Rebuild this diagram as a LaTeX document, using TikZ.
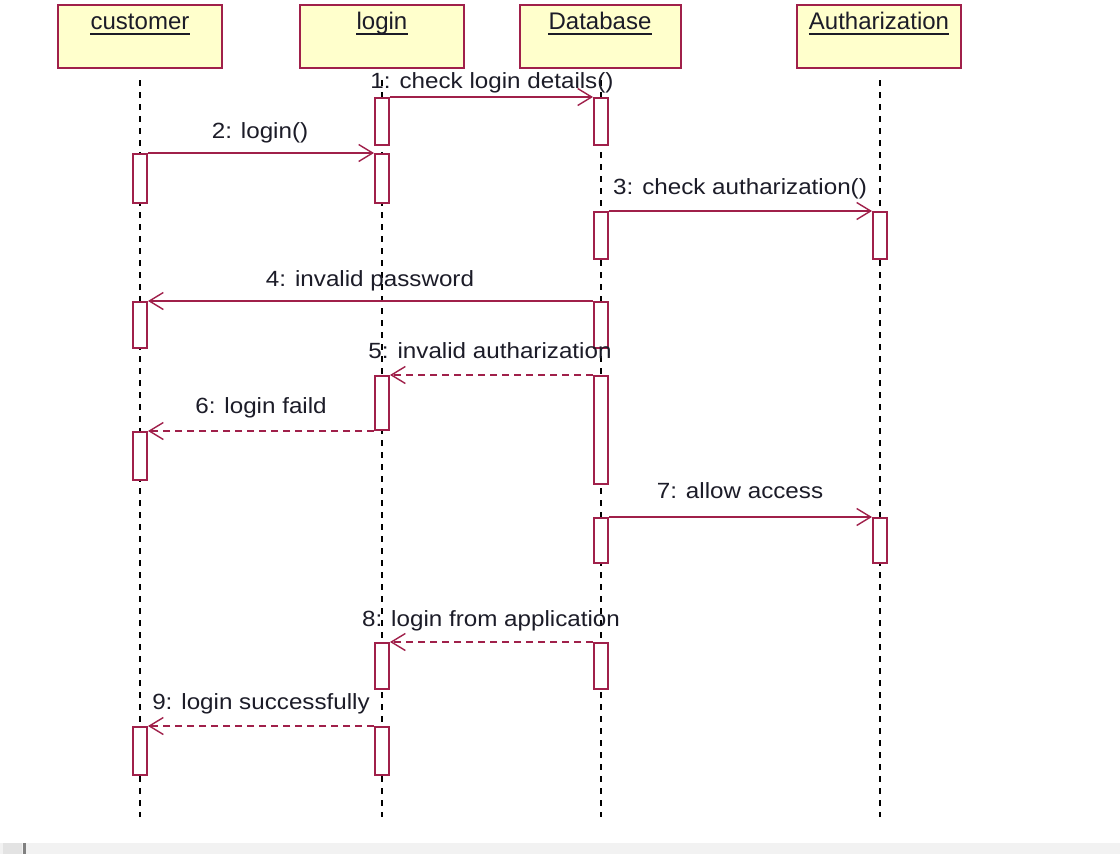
\documentclass[tikz,border=0pt]{standalone}
\usepackage{fontspec}
\setmainfont{Liberation Sans}
\newfontfamily\lblfont[FakeStretch=1.1]{Liberation Sans}
\usetikzlibrary{arrows.meta}

\definecolor{umlred}{HTML}{A0204A}
\definecolor{umlfill}{HTML}{FFFFCC}
\definecolor{umltext}{HTML}{1C1C28}

\tikzset{
  hdrbox/.style={draw=umlred, fill=umlfill, line width=2pt, rectangle,
    minimum height=63pt, inner sep=0pt},
  hdrtext/.style={font=\fontsize{24}{28}\selectfont, text=umltext,
    inner sep=0pt, anchor=base},
  uline/.style={umltext, line width=1.5pt},
  lifeline/.style={black, line width=2pt, dash pattern=on 6pt off 6pt},
  actbar/.style={draw=umlred, fill=white, line width=2pt, rectangle,
    minimum width=14pt, inner sep=0pt, anchor=north},
  msg/.style={umlred, line width=2pt,
    -{Straight Barb[length=14pt, width=17pt, line width=1.4pt]}},
  reply/.style={msg, dash pattern=on 7pt off 5pt},
  lbl/.style={font=\lblfont\fontsize{22}{26}\selectfont, text=umltext,
    inner sep=0pt, anchor=base}
}

\begin{document}
\begin{tikzpicture}[x=1pt, y=-1pt]
\useasboundingbox (0,0) rectangle (1120,854);
\fill[white] (0,0) rectangle (1120,854);

% status strip along the bottom edge
\fill[black!5] (0,843) rectangle (1120,854);
\fill[black!11] (3,843) rectangle (22,854);
\fill[black!50] (23,843) rectangle (26,854);

% object headers
\node[hdrbox, minimum width=164pt] (custBox) at (140,36.5) {};
\node[hdrbox, minimum width=164pt] (loginBox) at (382,36.5) {};
\node[hdrbox, minimum width=161pt] (dbBox) at (600,36.5) {};
\node[hdrbox, minimum width=164pt] (authBox) at (879,36.5) {};

\node[hdrtext] (custT) at (140,29.5) {customer};
\node[hdrtext] (loginT) at (382,29.5) {login};
\node[hdrtext] (dbT) at (600,29.5) {Database};
\node[hdrtext] (authT) at (879,29.5) {Autharization};
\foreach \t in {custT, loginT, dbT, authT}
  \draw[uline] ([yshift=-4.5pt]\t.base west) -- ([yshift=-4.5pt]\t.base east);

% lifelines
\coordinate (custTop) at (140,80);   \coordinate (custEnd) at (140,817);
\coordinate (loginTop) at (382,80);  \coordinate (loginEnd) at (382,817);
\coordinate (dbTop) at (601,80);     \coordinate (dbEnd) at (601,817);
\coordinate (authTop) at (880,80);   \coordinate (authEnd) at (880,817);
\draw[lifeline] (custTop) -- (custEnd);
\draw[lifeline] (loginTop) -- (loginEnd);
\draw[lifeline] (dbTop) -- (dbEnd);
\draw[lifeline] (authTop) -- (authEnd);

% activation bars
\node[actbar, minimum height=49pt] (c1) at (140,153) {};
\node[actbar, minimum height=46pt] (c2) at (140,301) {};
\node[actbar, minimum height=48pt] (c3) at (140,431) {};
\node[actbar, minimum height=48pt] (c4) at (140,726) {};

\node[actbar, minimum height=47pt] (l1) at (382,97) {};
\node[actbar, minimum height=49pt] (l2) at (382,153) {};
\node[actbar, minimum height=54pt] (l3) at (382,375) {};
\node[actbar, minimum height=46pt] (l4) at (382,642) {};
\node[actbar, minimum height=48pt] (l5) at (382,726) {};

\node[actbar, minimum height=47pt] (d1) at (601,97) {};
\node[actbar, minimum height=47pt] (d2) at (601,211) {};
\node[actbar, minimum height=46pt] (d3) at (601,301) {};
\node[actbar, minimum height=108pt] (d4) at (601,375) {};
\node[actbar, minimum height=45pt] (d5) at (601,517) {};
\node[actbar, minimum height=46pt] (d6) at (601,642) {};

\node[actbar, minimum height=47pt] (a1) at (880,211) {};
\node[actbar, minimum height=45pt] (a2) at (880,517) {};

% messages
\draw[msg] (l1.north east) -- (d1.north west);
\draw[msg] (c1.north east) -- (l2.north west);
\draw[msg] (d2.north east) -- (a1.north west);
\draw[msg] (d3.north west) -- (c2.north east);
\draw[reply] (d4.north west) -- (l3.north east);
\draw[reply] (l3.west |- c3.north east) -- (c3.north east);
\draw[msg] (d5.north east) -- (a2.north west);
\draw[reply] (d6.north west) -- (l4.north east);
\draw[reply] (l5.north west) -- (c4.north east);

% message labels
\node[lbl] (m1) at (492,88) {1: check login details()};
\node[lbl] (m2) at (260,138) {2: login()};
\node[lbl] (m3) at (740,194) {3: check autharization()};
\node[lbl] (m4) at (370,286) {4: invalid password};
\node[lbl] (m5) at (490,358) {5: invalid autharization};
\node[lbl] (m6) at (261,413) {6: login faild};
\node[lbl] (m7) at (740,498) {7: allow access};
\node[lbl] (m8) at (491,626) {8: login from application};
\node[lbl] (m9) at (261,709) {9: login successfully};
\end{tikzpicture}
\end{document}
